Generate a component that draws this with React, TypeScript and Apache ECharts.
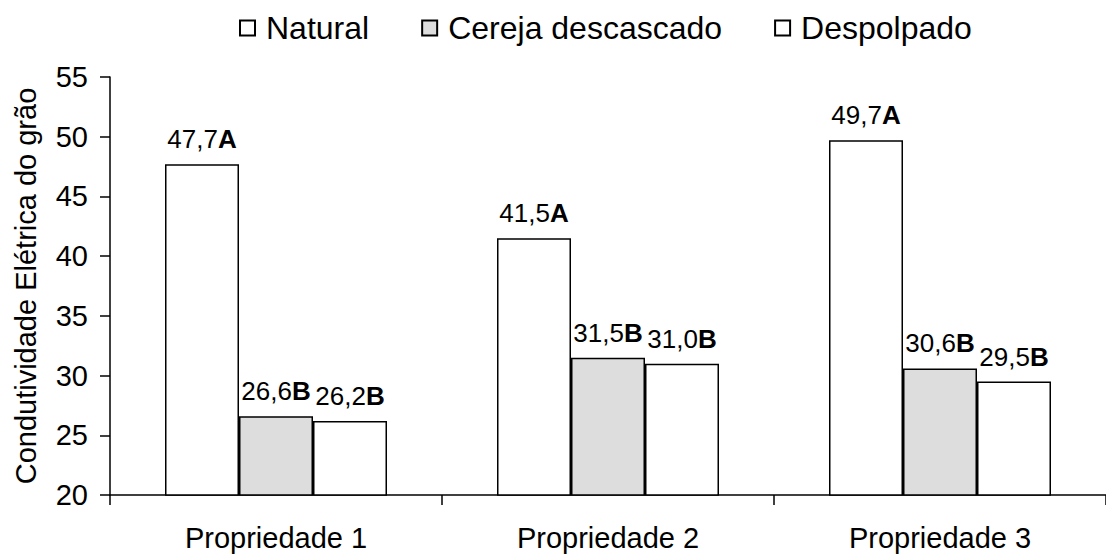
import React, { useEffect, useRef } from "react";
import * as echarts from "echarts";

const categories = ["Propriedade 1", "Propriedade 2", "Propriedade 3"];
const seriesNames = ["Natural", "Cereja descascado", "Despolpado"];
const naturalValues = [47.7, 41.5, 49.7];
const cerejaValues = [26.6, 31.5, 30.6];
const despolpadoValues = [26.2, 31.0, 29.5];
const naturalLetters = ["A", "A", "A"];
const cerejaLetters = ["B", "B", "B"];
const despolpadoLetters = ["B", "B", "B"];
const yMin = 20;
const yMax = 55;
const yStep = 5;
const yAxisName = "Condutividade Elétrica do grão";

const FONT = "'Liberation Sans', Arial, sans-serif";

function makeSeries(name: string, values: number[], letters: string[], color: string) {
  return {
    name,
    type: "bar",
    data: values,
    barWidth: 74,
    barGap: "0%",
    itemStyle: { color, borderColor: "#000", borderWidth: 1.5 },
    label: {
      show: true,
      position: "top",
      distance: 12,
      formatter: (p: any) =>
        "{n|" + p.value.toFixed(1).replace(".", ",") + "}{b|" + letters[p.dataIndex] + "}",
      rich: {
        n: { fontFamily: FONT, fontSize: 26, color: "#000" },
        b: { fontFamily: FONT, fontSize: 26, fontWeight: "bold", color: "#000" },
      },
    },
  };
}

export default function App() {
  const ref = useRef<HTMLDivElement>(null);
  useEffect(() => {
    if (!ref.current) return;
    const chart = echarts.init(ref.current, null, { renderer: "svg" });
    chart.setOption({
      animation: false,
      backgroundColor: "#fff",
      textStyle: { fontFamily: FONT, color: "#000" },
      legend: {
        top: 7,
        left: 234,
        itemWidth: 27,
        itemHeight: 15,
        itemGap: 52,
        icon: "path://M0,0h10v10h-10z",
        textStyle: { fontFamily: FONT, fontSize: 32, color: "#000" },
        data: seriesNames,
      },
      grid: { left: 110, right: -14, top: 77, bottom: 60, containLabel: false },
      xAxis: {
        type: "category",
        data: categories,
        axisLine: { lineStyle: { color: "#000", width: 1.5 } },
        axisTick: { show: true, length: 10, lineStyle: { color: "#000", width: 1.5 } },
        axisLabel: { fontFamily: FONT, fontSize: 29, color: "#000", margin: 28 },
      },
      yAxis: {
        type: "value",
        min: yMin,
        max: yMax,
        interval: yStep,
        name: yAxisName,
        nameLocation: "middle",
        nameRotate: 90,
        nameGap: 70,
        nameTextStyle: { fontFamily: FONT, fontSize: 29, color: "#000" },
        splitLine: { show: false },
        axisLine: { show: true, lineStyle: { color: "#000", width: 1.5 } },
        axisTick: { show: true, length: 10, lineStyle: { color: "#000", width: 1.5 } },
        axisLabel: { fontFamily: FONT, fontSize: 29, color: "#000", margin: 22 },
      },
      series: [
        makeSeries(seriesNames[0], naturalValues, naturalLetters, "#ffffff"),
        makeSeries(seriesNames[1], cerejaValues, cerejaLetters, "#dddddd"),
        makeSeries(seriesNames[2], despolpadoValues, despolpadoLetters, "#ffffff"),
      ],
    });
    return () => chart.dispose();
  }, []);
  return (
    <div
      ref={ref}
      style={{ position: "fixed", left: 0, top: 0, width: 1106, height: 555, background: "#fff" }}
    />
  );
}
